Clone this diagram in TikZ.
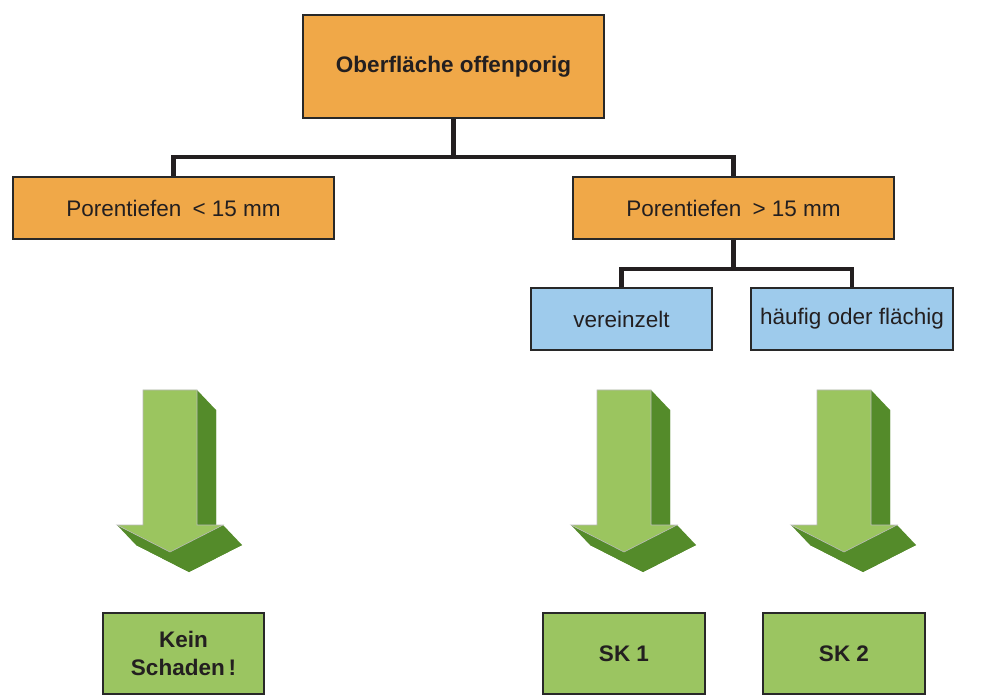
\documentclass[tikz,border=0pt]{standalone}
\usepackage{fontspec}
\setmainfont{Liberation Sans}
\definecolor{boxorange}{RGB}{240,168,72}
\definecolor{boxblue}{RGB}{158,203,236}
\definecolor{boxgreen}{RGB}{155,197,97}
\definecolor{arrowlight}{RGB}{155,197,95}
\definecolor{arrowdark}{RGB}{84,139,42}
\definecolor{ink}{RGB}{35,31,32}
\definecolor{edge}{RGB}{40,40,40}
\tikzset{
  x=1pt, y=-1pt,
  every node/.style={font=\fontsize{22.5}{27}\selectfont, text=ink},
  box/.style={draw=edge, line width=2.6pt, rectangle, inner sep=0pt, align=center},
  orangebox/.style={box, fill=boxorange},
  bluebox/.style={box, fill=boxblue},
  greenbox/.style={box, fill=boxgreen, font=\fontsize{22.5}{28}\selectfont\bfseries},
  conn/.style={draw=ink, line width=4.5pt},
  % extruded block arrow pointing down; origin = top centre of the shaft front face
  block arrow/.pic={
    \def\dx{19}\def\dy{20}
    \fill[arrowdark] (-27+\dx,0+\dy) -- (27+\dx,0+\dy) -- (27+\dx,135+\dy) -- (53+\dx,135+\dy)
      -- (0+\dx,162+\dy) -- (-53+\dx,135+\dy) -- (-27+\dx,135+\dy) -- cycle;
    \fill[arrowdark] (27,0) -- (27+\dx,\dy) -- (27+\dx,135+\dy) -- (27,135) -- cycle;
    \fill[arrowdark] (53,135) -- (53+\dx,135+\dy) -- (\dx,162+\dy) -- (0,162) -- cycle;
    \fill[arrowdark] (-53,135) -- (-53+\dx,135+\dy) -- (\dx,162+\dy) -- (0,162) -- cycle;
    \filldraw[fill=arrowlight, draw=gray!55, line width=0.6pt]
      (-27,0) -- (27,0) -- (27,135) -- (53,135) -- (0,162) -- (-53,135) -- (-27,135) -- cycle;
  }
}
\begin{document}
\begin{tikzpicture}
\fill[white] (0,0) rectangle (1004,700);
\useasboundingbox (0,0) rectangle (1004,700);

% decision tree boxes
\node[orangebox, minimum width=301pt, minimum height=103pt, font=\fontsize{22.5}{27}\selectfont\bfseries]
  (top) at (453.5,66.5) {Oberfläche offenporig};
\node[orangebox, minimum width=321pt, minimum height=62pt]
  (shallow) at (173.5,208) {Porentiefen\hspace{0.5em}< 15 mm};
\node[orangebox, minimum width=321pt, minimum height=62pt]
  (deep) at (733.5,208) {Porentiefen\hspace{0.5em}> 15 mm};
\node[bluebox, minimum width=181pt, minimum height=62pt]
  (single) at (621.5,319) {vereinzelt};
\node[bluebox, minimum width=202pt, minimum height=62pt]
  (wide) at (852,319) {häufig oder flächig};

% result boxes
\node[greenbox, minimum width=161pt, minimum height=81pt]
  (none) at (183.5,653.5) {Kein\\Schaden\,!};
\node[greenbox, minimum width=162pt, minimum height=81pt]
  (sk1) at (624,653.5) {SK 1};
\node[greenbox, minimum width=162pt, minimum height=81pt]
  (sk2) at (844,653.5) {SK 2};

% tree connectors
\coordinate (busA) at (453.5,157);
\coordinate (busB) at (733.5,269);
\draw[conn] (top.south) -- (busA);
\draw[conn] (shallow.north) |- (busA) -| (deep.north);
\draw[conn] (deep.south) -- (busB);
\draw[conn] (single.north) |- (busB) -| (wide.north);

% block arrows towards the results
\pic at (170,390) {block arrow};
\pic at (624,390) {block arrow};
\pic at (844,390) {block arrow};
\end{tikzpicture}
\end{document}
